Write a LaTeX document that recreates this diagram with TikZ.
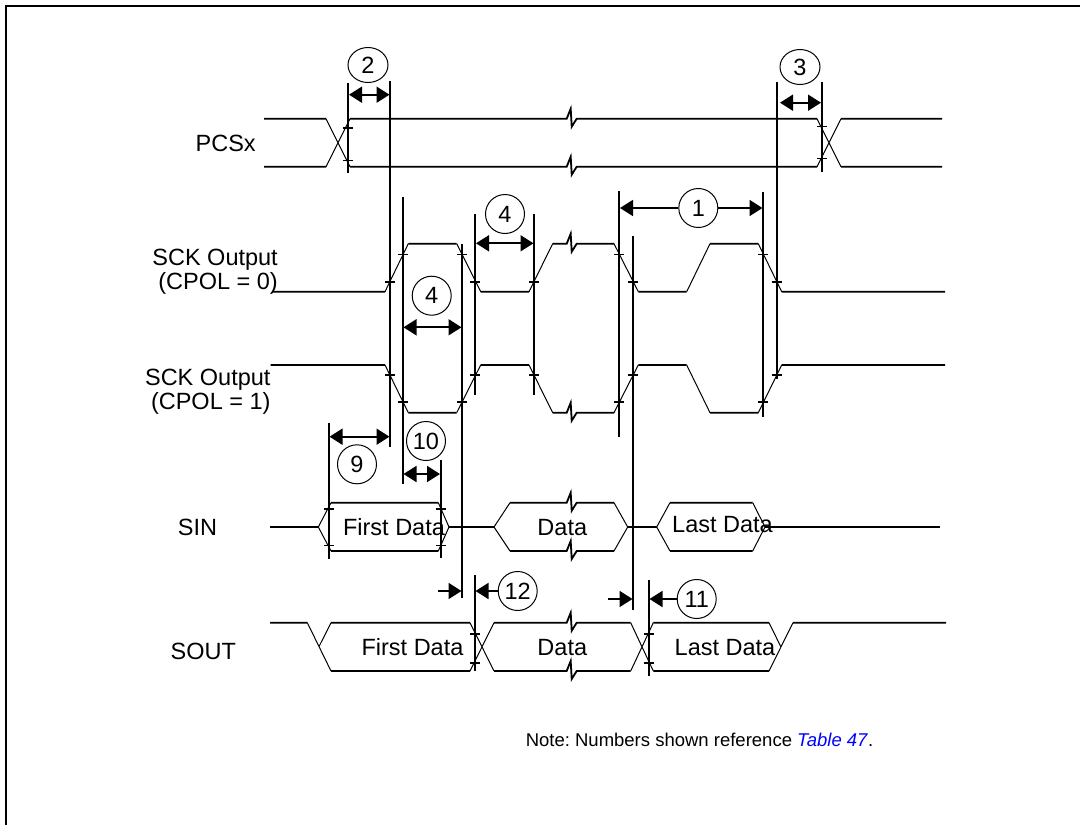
\documentclass[tikz,border=0pt]{standalone}
\usepackage{xcolor}
\usepackage{fontspec}
\setmainfont{Liberation Sans}
\usetikzlibrary{arrows.meta}
\usetikzlibrary{shapes.geometric}

\newcommand{\brk}{-- ++(4,-10) -- ++(1,18) -- ++(5,-8)}

\begin{document}
\frenchspacing
\begin{tikzpicture}[x=1pt,y=-1pt,font=\fontsize{23.5}{24}\selectfont,
      level style/.style={line width=1.8pt},
      slope style/.style={line width=1pt},
      marker style/.style={line width=1.8pt},
      tick style/.style={line width=1.4pt},
      span style/.style={line width=1.8pt,{Triangle[length=13pt,width=16pt]}-{Triangle[length=13pt,width=16pt]}},
      stub style/.style={line width=1.8pt,-{Triangle[length=13pt,width=16pt]}},
      num style/.style={circle,draw=black,line width=1pt,inner sep=0pt,minimum size=39pt},
      wide num style/.style={ellipse,draw=black,line width=1pt,inner sep=0pt,minimum width=40pt,minimum height=35pt},
      text style/.style={inner sep=0pt,anchor=base}
      ]
      \useasboundingbox (0,0) rectangle (1080,825);
      \draw[line width=2pt] (6,825) -- (6,6) -- (1080,6);

      % signal names
      \node[text style] (pcs) at (225.7,151) {PCSx};
      \node[inner sep=0pt,anchor=north east,align=right] (sckzero) at (278,249) {SCK Output\\(CPOL = 0)};
      \node[inner sep=0pt,anchor=north east,align=right] (sckone) at (270.7,369) {SCK Output\\(CPOL = 1)};
      \node[text style] (sin) at (197.5,535) {SIN};
      \node[text style] (sout) at (203.3,659) {SOUT};

      % PCSx
      \draw[level style] (264,118.7) -- (326,118.7) (350,118.7) -- (566.7,118.7) \brk -- (817,118.7) (841,118.7) -- (942,118.7);
      \draw[level style] (264,166.7) -- (326,166.7) (350,166.7) -- (566.7,166.7) \brk -- (817,166.7) (841,166.7) -- (942,166.7);
      \draw[slope style] (326,118.7) -- (350,166.7) (326,166.7) -- (350,118.7);
      \draw[slope style] (817,118.7) -- (841,166.7) (817,166.7) -- (841,118.7);

      % SCK, CPOL = 0
      \draw[level style] (272,291.7) -- (385,291.7) (408.3,243.7) -- (456.7,243.7) (480.7,291.7) -- (529,291.7)
        (552.7,243.7) -- (566.7,243.7) \brk -- (614,243.7) (638.3,291.7) -- (686.7,291.7)
        (710,243.7) -- (758.3,243.7) (781.7,291.7) -- (945,291.7);
      \draw[slope style] (385,291.7) -- (408.3,243.7) (456.7,243.7) -- (480.7,291.7) (529,291.7) -- (552.7,243.7)
        (614,243.7) -- (638.3,291.7) (686.7,291.7) -- (710,243.7) (758.3,243.7) -- (781.7,291.7);

      % SCK, CPOL = 1
      \draw[level style] (270.7,365) -- (385,365) (408.3,412.7) -- (456.7,412.7) (480.7,365) -- (529,365)
        (552.7,412.7) -- (566.7,412.7) \brk -- (614,412.7) (638.3,365) -- (686.7,365)
        (710,412.7) -- (758.3,412.7) (781.7,365) -- (945,365);
      \draw[slope style] (385,365) -- (408.3,412.7) (456.7,412.7) -- (480.7,365) (529,365) -- (552.7,412.7)
        (614,412.7) -- (638.3,365) (686.7,365) -- (710,412.7) (758.3,412.7) -- (781.7,365);

      % SIN
      \draw[level style] (270,527) -- (318.3,527) (449,527) -- (494,527) (627.7,527) -- (656.7,527) (765,527) -- (940,527);
      \draw[level style] (331,502.7) -- (438.3,502.7) (510,502.7) -- (566.7,502.7) \brk -- (614,502.7) (670,502.7) -- (752.7,502.7);
      \draw[level style] (331,551) -- (438.3,551) (510,551) -- (566.7,551) \brk -- (614,551) (670,551) -- (752.7,551);
      \draw[slope style] (331,502.7) -- (318.3,527) -- (331,551) (438.3,502.7) -- (449,527) -- (438.3,551)
        (510,502.7) -- (494,527) -- (510,551) (614,502.7) -- (627.7,527) -- (614,551)
        (670,502.7) -- (656.7,527) -- (670,551) (752.7,502.7) -- (765,527) -- (752.7,551);

      % SOUT
      \draw[level style] (270,622.7) -- (307.3,622.7) (331,622.7) -- (470,622.7) (494,622.7) -- (566.7,622.7) \brk -- (630.7,622.7)
        (653.3,622.7) -- (769,622.7) (793,622.7) -- (946,622.7);
      \draw[level style] (331,671) -- (470,671) (494,671) -- (566.7,671) \brk -- (630.7,671) (653.3,671) -- (769,671);
      \draw[slope style] (307.3,622.7) -- (331,671) (331,622.7) -- (319.3,646) (470,622.7) -- (494,671) (470,671) -- (494,622.7)
        (630.7,622.7) -- (653.3,671) (630.7,671) -- (653.3,622.7) (769,622.7) -- (781,647) (769,671) -- (793,622.7);

      % timing markers: x, top, bottom, tick heights
      \foreach \x/\ytop/\ybot/\yone/\ytwo in {348/83/173/128/160.7, 822/82/172/126.7/158.7,
          390/81/446.7/282/375, 402.7/196.7/484/254.7/402, 462/244/598/254.7/402,
          475/214.3/395/282/375, 534/214.3/395/282/375, 619/191/436.7/254.7/402,
          633/236/610/282/375, 763/192/417/254.7/402, 776.7/82/379/282/375,
          329/423.3/559.3/509/545.7, 441/460/558.3/509/545.7,
          475/575/670.7/634/663, 649/580/676/634/663} {
        \draw[marker style] (\x,\ytop) -- (\x,\ybot);
        \draw[tick style] (\x-5,\yone) -- (\x+5,\yone) (\x-5,\ytwo) -- (\x+5,\ytwo);
      }

      % reference numbers
      \node[wide num style] (ref two) at (368,65) {2};
      \node[wide num style] (ref three) at (800,67) {3};
      \node[num style] (ref one) at (698.3,208) {1};
      \node[num style] (ref top) at (505,214) {4};
      \node[num style] (ref mid) at (431.7,295.7) {4};
      \node[num style] (ref nine) at (357,464.3) {9};
      \node[num style] (ref ten) at (426,441) {10};
      \node[num style] (ref twelve) at (517.7,591) {12};
      \node[num style] (ref eleven) at (696.7,599) {11};

      % span ends
      \coordinate (two l) at (349,94.7);
      \coordinate (two r) at (389.5,94.7);
      \coordinate (three l) at (780,102.7);
      \coordinate (three r) at (821,102.7);
      \coordinate (one l) at (620,208);
      \coordinate (one r) at (762.5,208);
      \coordinate (top l) at (476,243.3);
      \coordinate (top r) at (533.5,243.3);
      \coordinate (mid l) at (403.5,327.3);
      \coordinate (mid r) at (461.5,327.3);
      \coordinate (nine l) at (329.5,436.7);
      \coordinate (nine r) at (389.5,436.7);
      \coordinate (ten l) at (403.5,474);
      \coordinate (ten r) at (440,474);
      \coordinate (twelve a) at (438,591);
      \coordinate (twelve b) at (461.5,591);
      \coordinate (twelve c) at (475.5,591);
      \coordinate (eleven a) at (608,599);
      \coordinate (eleven b) at (632.5,599);
      \coordinate (eleven c) at (649.5,599);

      \draw[span style] (two l) -- (two r);
      \draw[span style] (three l) -- (three r);
      \draw[span style] (top l) -- (top r);
      \draw[span style] (mid l) -- (mid r);
      \draw[span style] (nine l) -- (nine r);
      \draw[span style] (ten l) -- (ten r);
      \draw[stub style] (ref one) -- (one l);
      \draw[stub style] (ref one) -- (one r);
      \draw[stub style] (twelve a) -- (twelve b);
      \draw[stub style] (ref twelve) -- (twelve c);
      \draw[stub style] (eleven a) -- (eleven b);
      \draw[stub style] (ref eleven) -- (eleven c);

      % data labels
      \node[text style] (sin first) at (394,535) {First Data};
      \node[text style] (sin data) at (562.3,535) {Data};
      \node[text style] (sin last) at (722.5,532.7) {Last Data};
      \node[text style] (sout first) at (412.5,655) {First Data};
      \node[text style] (sout data) at (562.3,655) {Data};
      \node[text style] (sout last) at (725,655) {Last Data};

      \node[text style,font=\fontsize{18.5}{20}\selectfont] (note) at (699.5,746.5)
        {Note: Numbers shown reference \textcolor{blue}{\textit{Table 47}}.};

    \end{tikzpicture}
\end{document}
